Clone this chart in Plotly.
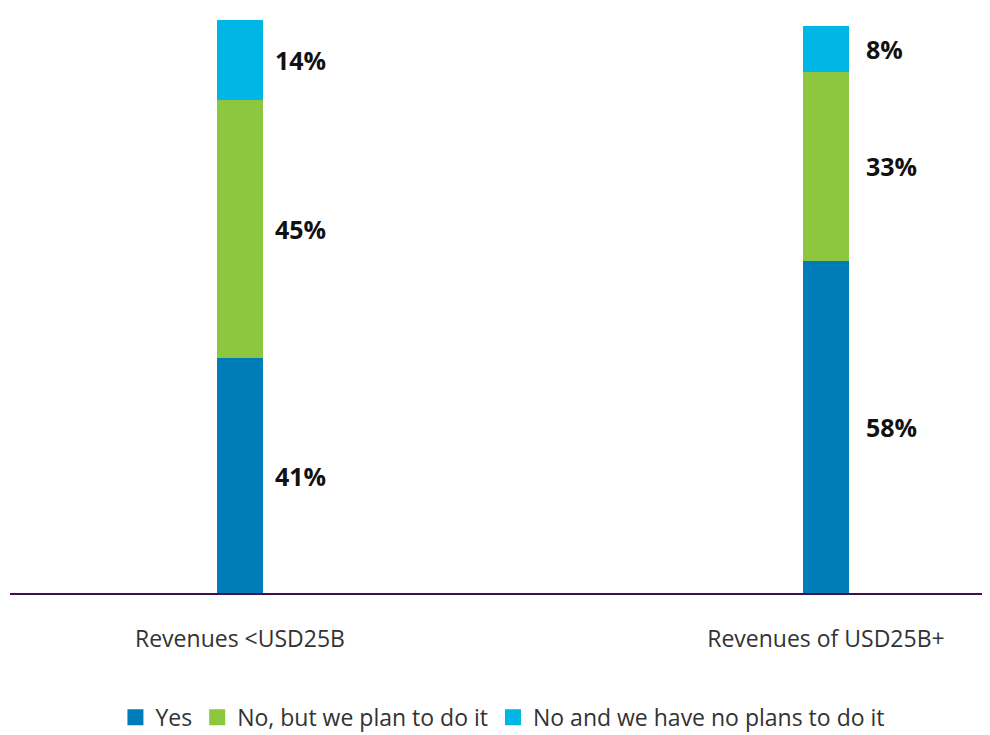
import plotly.graph_objects as go

categories = ["Revenues <USD25B", "Revenues of USD25B+"]
series_names = ["Yes", "No, but we plan to do it", "No and we have no plans to do it"]
yes_vals = [41, 58]
plan_vals = [45, 33]
noplan_vals = [14, 8]
colors = ["#007DB9", "#8DC63F", "#00B6E4"]

series_vals = [yes_vals, plan_vals, noplan_vals]
label_shift = [33, 38]  # pixel offset of value labels right of each bar

fig = go.Figure()
for name, vals, col in zip(series_names, series_vals, colors):
    fig.add_trace(go.Bar(x=[0, 1], y=vals, name=name, marker=dict(color=col, line=dict(width=0)),
                         width=0.0785, showlegend=False, hoverinfo="skip"))
# legend proxies (square markers)
for name, col in zip(series_names, colors):
    fig.add_trace(go.Scatter(x=[None], y=[None], mode="markers", name=name,
                             marker=dict(symbol="square", size=18, color=col)))

# value labels to the right of each segment
annotations = []
for i in range(len(categories)):
    base = 0
    for vals in series_vals:
        v = vals[i]
        annotations.append(dict(x=i, y=base + v / 2, xref="x", yref="y", text=f"{v}%",
                                showarrow=False, xanchor="left", yanchor="middle", xshift=label_shift[i],
                                font=dict(family="Open Sans", size=25, color="#111111", weight="bold")))
        base += v

fig.update_layout(
    width=990, height=735,
    margin=dict(l=2, r=8, t=12, b=150, autoexpand=False),
    barmode="stack",
    paper_bgcolor="white", plot_bgcolor="white",
    font=dict(family="Open Sans", size=23, color="#333333"),
    annotations=annotations,
    legend=dict(orientation="h", x=0.503, xanchor="center", y=-0.217, yanchor="middle",
                traceorder="normal",
                font=dict(size=23, color="#333333"), itemwidth=30, tracegroupgap=0),
    xaxis=dict(range=[-0.3925, 1.28], tickmode="array", tickvals=[0, 1], ticktext=categories,
               showgrid=False, zeroline=False, showline=True, linecolor="#3C1053", linewidth=1.5,
               ticks="", ticklabelstandoff=25, tickfont=dict(size=23, color="#333333")),
    yaxis=dict(range=[0, 100], visible=False, showgrid=False, zeroline=False),
)

fig.write_html("out.html")
